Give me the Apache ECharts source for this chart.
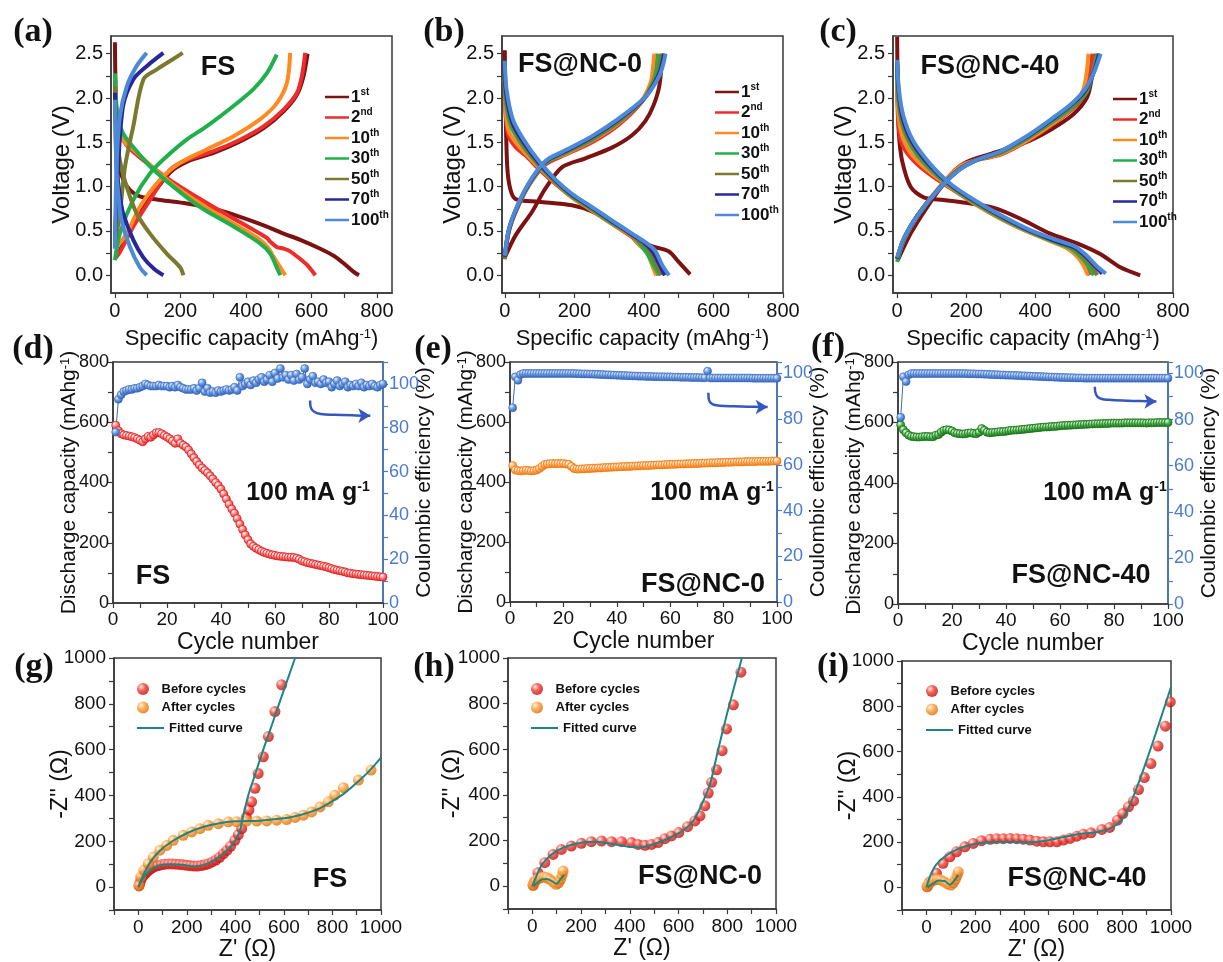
<!DOCTYPE html>
<html>
<head>
<meta charset="utf-8">
<script src="https://cdn.jsdelivr.net/npm/echarts@6/dist/echarts.min.js"></script>
<style>
html, body { margin: 0; padding: 0; background: #fff; }
#main { width: 1223px; height: 962px; }
</style>
</head>
<body>
<div id="main"></div>
<script>
// ---------- data ----------
var cycleNames = ['1st', '2nd', '10th', '30th', '50th', '70th', '100th'];

// (a)-(c) galvanostatic curves, [capacity (mAh/g), voltage (V)]
var fsDischarge = [
    [[0,2.63],[1,2.3],[3,1.9],[6,1.5],[12,1.25],[25,1.08],[46,0.96],[76,0.89],[138,0.85],[219,0.81],[301,0.75],[382,0.66],[464,0.55],[515,0.47],[566,0.4],[627,0.3],[668,0.22],[700,0.13],[725,0.05],[745,0.0]],
    [[0,2.2],[5,1.85],[15,1.6],[35,1.47],[76,1.33],[158,1.1],[260,0.86],[362,0.64],[443,0.47],[465,0.42],[474,0.38],[494,0.32],[515,0.3],[535,0.27],[560,0.2],[586,0.12],[612,0.0]],
    [[0,2.1],[5,1.8],[15,1.6],[30,1.5],[56,1.42],[158,1.08],[260,0.81],[362,0.585],[443,0.4],[470,0.3],[484,0.21],[505,0.09],[520,0.0]],
    [[0,2.28],[3,2.0],[10,1.75],[25,1.6],[46,1.49],[107,1.23],[178,1.0],[260,0.77],[362,0.55],[443,0.36],[474,0.245],[494,0.09],[505,0.0]],
    [[0,2.13],[2,1.85],[5,1.6],[15,1.3],[36,1.0],[66,0.7],[107,0.47],[158,0.245],[199,0.09],[209,0.0]],
    [[0,2.06],[2,1.7],[5,1.23],[15,0.9],[25,0.7],[56,0.4],[87,0.2],[120,0.07],[148,0.0]],
    [[0,1.98],[2,1.6],[5,1.15],[12,0.85],[20,0.62],[46,0.32],[76,0.09],[97,0.0]]
];
var fsCharge = [
    [[3,0.2],[15,0.28],[56,0.58],[107,0.87],[168,1.16],[219,1.28],[301,1.38],[382,1.51],[454,1.66],[515,1.85],[556,2.04],[576,2.25],[588,2.5]],
    [[2,0.2],[15,0.26],[56,0.55],[107,0.85],[168,1.19],[219,1.3],[301,1.4],[382,1.53],[454,1.68],[515,1.87],[556,2.06],[571,2.25],[581,2.51]],
    [[0,0.3],[36,0.47],[76,0.77],[138,1.08],[199,1.27],[280,1.42],[362,1.57],[443,1.76],[494,1.94],[525,2.17],[535,2.51]],
    [[0,0.17],[15,0.47],[56,0.85],[107,1.15],[158,1.34],[219,1.53],[280,1.68],[362,1.91],[423,2.1],[464,2.28],[494,2.49]],
    [[0,0.36],[15,0.7],[31,1.23],[56,1.68],[87,2.21],[127,2.32],[178,2.44],[207,2.51]],
    [[0,0.4],[10,1.23],[25,1.91],[56,2.21],[97,2.36],[148,2.51]],
    [[0,0.3],[5,1.23],[15,1.79],[36,2.13],[66,2.36],[97,2.51]]
];
var nc0Discharge = [
    [[0,2.54],[1,2.2],[2,1.98],[7,1.23],[16,0.97],[31,0.86],[98,0.83],[193,0.79],[251,0.72],[337,0.53],[414,0.34],[471,0.27],[500,0.15],[533,0.01]],
    [[0,2.1],[3,1.8],[10,1.58],[30,1.45],[60,1.35],[98,1.2],[146,1.03],[193,0.88],[251,0.73],[308,0.58],[366,0.43],[385,0.35],[404,0.3],[420,0.2],[432,0.08],[440,0.0]],
    [[0,2.2],[3,1.85],[12,1.62],[40,1.46],[98,1.22],[146,1.04],[193,0.88],[251,0.73],[308,0.58],[366,0.44],[390,0.33],[410,0.25],[425,0.1],[435,0.0]],
    [[0,2.25],[3,1.95],[18,1.68],[50,1.47],[98,1.24],[146,1.05],[193,0.89],[251,0.74],[308,0.59],[366,0.45],[392,0.34],[410,0.24],[430,0.1],[445,0.0]],
    [[0,2.3],[3,2.0],[21,1.7],[52,1.48],[98,1.25],[146,1.06],[193,0.9],[251,0.75],[308,0.6],[366,0.45],[395,0.36],[418,0.26],[438,0.1],[450,0.0]],
    [[0,2.35],[4,2.05],[22,1.72],[54,1.5],[100,1.26],[146,1.07],[193,0.91],[251,0.76],[308,0.61],[366,0.46],[400,0.37],[425,0.27],[445,0.12],[460,0.0]],
    [[0,2.42],[5,2.1],[24,1.75],[56,1.52],[100,1.28],[146,1.08],[193,0.92],[251,0.77],[308,0.62],[366,0.47],[405,0.37],[432,0.28],[452,0.12],[472,0.0]]
];
var nc0Charge = [
    [[0,0.2],[31,0.45],[79,0.72],[117,0.98],[165,1.22],[232,1.32],[308,1.44],[366,1.58],[404,1.74],[428,1.92],[445,2.15],[452,2.5]],
    [[0,0.18],[11,0.48],[31,0.71],[69,1.01],[117,1.25],[174,1.36],[251,1.5],[328,1.7],[395,1.96],[420,2.15],[432,2.3],[438,2.5]],
    [[0,0.2],[11,0.5],[31,0.72],[69,1.02],[117,1.27],[174,1.37],[251,1.52],[328,1.72],[395,1.98],[419,2.17],[425,2.3],[430,2.5]],
    [[0,0.19],[11,0.49],[31,0.72],[69,1.02],[117,1.27],[174,1.38],[251,1.53],[328,1.73],[398,1.98],[425,2.17],[435,2.3],[442,2.5]],
    [[0,0.2],[11,0.5],[31,0.73],[69,1.03],[117,1.28],[174,1.39],[251,1.54],[328,1.74],[400,1.99],[430,2.18],[442,2.3],[450,2.5]],
    [[0,0.21],[11,0.5],[31,0.73],[69,1.03],[117,1.28],[174,1.4],[251,1.56],[328,1.76],[402,2.0],[435,2.2],[448,2.32],[458,2.5]],
    [[0,0.22],[11,0.51],[31,0.74],[69,1.04],[117,1.29],[174,1.41],[251,1.57],[328,1.77],[404,2.01],[438,2.2],[452,2.33],[462,2.5]]
];
var nc40Discharge = [
    [[0,2.69],[1,2.3],[2,1.97],[5,1.6],[14,1.3],[39,1.0],[77,0.88],[135,0.85],[213,0.81],[290,0.75],[367,0.62],[444,0.47],[522,0.36],[589,0.24],[647,0.09],[705,0.0]],
    [[0,2.1],[3,1.75],[12,1.5],[39,1.33],[87,1.16],[155,0.98],[232,0.79],[309,0.62],[386,0.48],[450,0.4],[470,0.38],[500,0.3],[530,0.2],[548,0.08],[558,0.0]],
    [[0,2.2],[3,1.85],[14,1.58],[39,1.38],[87,1.19],[155,0.99],[232,0.79],[309,0.62],[386,0.48],[454,0.37],[495,0.3],[525,0.2],[542,0.1],[553,0.0]],
    [[0,2.3],[4,1.95],[15,1.7],[40,1.46],[87,1.23],[155,1.0],[232,0.8],[309,0.63],[386,0.49],[460,0.37],[505,0.3],[535,0.2],[555,0.1],[570,0.0]],
    [[0,2.35],[4,2.0],[16,1.72],[42,1.48],[90,1.24],[155,1.01],[232,0.81],[309,0.64],[386,0.5],[462,0.38],[510,0.31],[540,0.21],[565,0.1],[580,0.0]],
    [[0,2.4],[5,2.05],[17,1.76],[44,1.5],[92,1.25],[155,1.02],[232,0.82],[309,0.65],[386,0.5],[465,0.38],[515,0.31],[545,0.22],[575,0.1],[595,0.02]],
    [[0,2.43],[5,2.1],[18,1.8],[46,1.52],[95,1.26],[155,1.03],[232,0.83],[309,0.66],[386,0.51],[468,0.39],[518,0.32],[550,0.22],[580,0.1],[605,0.02]]
];
var nc40Charge = [
    [[2,0.17],[39,0.47],[87,0.77],[135,1.03],[193,1.26],[271,1.37],[367,1.49],[444,1.64],[512,1.82],[551,2.01],[565,2.24],[575,2.5]],
    [[0,0.18],[20,0.4],[60,0.68],[120,0.98],[180,1.23],[230,1.3],[300,1.36],[380,1.52],[450,1.7],[510,1.88],[545,2.05],[560,2.3],[566,2.5]],
    [[0,0.19],[20,0.41],[60,0.68],[120,0.98],[180,1.22],[230,1.3],[300,1.37],[380,1.53],[450,1.71],[510,1.9],[540,2.1],[550,2.3],[555,2.5]],
    [[0,0.15],[20,0.4],[60,0.67],[120,0.97],[180,1.2],[230,1.3],[300,1.38],[380,1.55],[450,1.73],[515,1.92],[550,2.07],[568,2.3],[578,2.5]],
    [[0,0.18],[20,0.41],[60,0.68],[120,0.97],[180,1.2],[230,1.3],[300,1.39],[380,1.56],[450,1.75],[512,1.93],[548,2.08],[570,2.3],[582,2.5]],
    [[0,0.19],[20,0.42],[60,0.68],[120,0.97],[180,1.19],[230,1.3],[300,1.4],[380,1.57],[450,1.76],[510,1.94],[546,2.09],[571,2.3],[586,2.5]],
    [[0,0.2],[20,0.42],[60,0.68],[120,0.97],[180,1.19],[230,1.3],[300,1.4],[380,1.58],[450,1.77],[510,1.95],[545,2.1],[572,2.3],[590,2.5]]
];
var capLabelTicks = [0, 200, 400, 600, 800];
var capTicks = [0, 100, 200, 300, 400, 500, 600, 700, 800];
var voltLabelTicks = [0, 0.5, 1, 1.5, 2, 2.5];
var voltTicks = [0, 0.25, 0.5, 0.75, 1, 1.25, 1.5, 1.75, 2, 2.25, 2.5];

// (d)-(f) cycling, cycle 1..100
var fsCapacity = [590,572,562,558,556,554,552,549,545,540, 535,545,553,550,558,565,566,562,556,551,
    545,538,530,545,530,524,518,508,495,482, 470,458,448,440,432,422,412,400,390,378,
    362,345,328,312,298,280,262,244,226,210, 196,188,182,177,172,168,165,162,160,158,
    156,155,154,153,152,152,151,149,145,140, 137,134,132,130,128,126,124,122,120,117,
    114,111,109,107,105,103,100,99,97,96, 95,94,93,92,91,90,89,88,87,86];
var fsEfficiency = [78,93,95,96.5,97,97.5,97.5,98,98,98.5, 99,100,99.5,99,99,99,99.5,99,99,99,
    98.5,99,98.5,99.5,98.5,98,97.5,97.5,97.5,98, 97,98,100.5,96.5,98,96,96.5,96,97,96.5,
    97,97.5,97,97.5,98.5,97,103,99,100,101, 99.5,101.5,100.5,102,103,101,102,104,101,105,
    102.5,107,103,104,102,104,101.5,104.5,102,103, 107,100,102,103.5,100.5,101,100,102,100.5,101,
    98.5,100,101.5,99,100,101,98.5,99.5,99,100, 99,100.5,98.5,99.5,99,100,99,98.5,99.5,100];
var nc0Capacity = [455,440,438,437,438,439,438,437,438,440, 445,452,458,460,461,462,461,462,461,462,
    460,459,452,445,443,443,444,444,445,445, 446,446,447,447,448,448,449,449,450,450,
    451,451,452,452,452,453,453,454,454,455, 455,455,456,456,457,457,457,458,458,459,
    459,459,460,460,460,461,461,461,462,462, 462,463,463,463,464,464,464,465,465,465,
    466,466,466,467,467,467,467,468,468,468, 468,468,469,469,469,469,469,470,470,470];
var nc0Efficiency = [85,98.5,97,99.5,100,100,100,100,100,100, 100,100,100,100,100,100,100,100,100,100,
    100,100,100,100,99.9,99.9,99.8,99.8,99.8,99.7, 99.7,99.6,99.6,99.5,99.5,99.4,99.4,99.3,99.3,99.2,
    99.2,99.1,99.1,99,99,98.9,98.9,98.8,98.8,98.8, 98.7,98.7,98.7,98.6,98.6,98.6,98.5,98.5,98.5,98.5,
    98.4,98.4,98.4,98.3,98.3,98.3,98.3,98.2,98.2,98.2, 98.2,98.1,98.1,101,98,98,98,98,98,98,
    98,98,98,98,98,98,98,98,98,98, 97.9,97.9,97.9,97.9,97.9,97.9,97.9,97.9,97.9,97.9];
var nc40Capacity = [592,576,566,558,554,553,552,552,553,554, 554,553,553,558,560,568,574,576,575,572,
    566,564,563,562,563,565,566,564,563,568, 580,574,568,566,567,568,569,570,570,571,
    573,574,575,575,576,577,578,579,580,581, 582,583,584,585,585,586,587,587,588,589,
    590,590,591,591,592,592,593,593,594,594, 595,595,596,596,596,597,597,597,598,598,
    598,598,598,599,599,599,599,599,599,599, 599,598,599,599,599,600,600,600,600,600];
var nc40Efficiency = [81,98.6,96.5,99.5,100,100,100,100,100,100, 100,100,100,100,100,100,100,100,100,100,
    100,100,100,100,100,99.9,99.9,99.9,99.8,99.8, 99.8,99.7,99.7,99.6,99.6,99.5,99.5,99.4,99.4,99.3,
    99.3,99.2,99.2,99.1,99.1,99,99,98.9,98.9,98.8, 98.8,98.7,98.7,98.6,98.6,98.5,98.5,98.4,98.4,98.3,
    98.3,98.3,98.2,98.2,98.2,98.1,98.1,98.1,98,98, 98,98,98,98,98,98,98,98,98,98,
    98,98,98,98,98,98,98,98,98,98, 98,98,98,98,98,98,98,98,98,98];
// "->" arrows pointing at the right axis, [cycle, CE %]
var fsArrow = [[73,92.4],[73.2,89.5],[74.5,87.3],[77,86.3],[82,85.9],[90,85.6],[95.3,85.5]];
var nc0Arrow = [[74.3,91.6],[74.5,88.5],[75.8,86.6],[78.5,85.9],[84,85.6],[92,85.4],[96.5,85.3]];
var nc40Arrow = [[72.9,94.3],[73.3,91],[74.8,89.2],[78,88.6],[85,88.2],[92,88],[95.7,87.9]];

// (g)-(i) Nyquist plots, [Z', -Z'']
var fsBefore = [[3,5],[7,20],[12,35],[20,48],[30,60],[40,70],[52,80],[65,88],[80,93],[95,97],[110,100],[125,101],[140,101],[155,100],[170,99],[185,97],[200,95],[215,93],[230,92],[245,92],[260,94],[275,97],[290,102],[305,110],[320,118],[335,130],[350,145],[365,160],[380,178],[398,204],[412,228],[426,255],[445,305],[456,336],[467,372],[481,431],[494,496],[515,569],[536,657],[563,766],[591,883]];
var fsAfter = [[3,7],[10,44],[23,73],[41,102],[62,131],[89,161],[117,182],[144,204],[185,226],[220,241],[254,255],[288,270],[330,277],[371,285],[405,285],[446,288],[488,288],[529,289],[570,292],[611,295],[646,304],[680,314],[714,328],[749,350],[783,372],[810,401],[845,434],[907,467],[959,511]];
var fsBeforeFit = [[0,0],[15,30],[40,65],[80,92],[130,100],[180,97],[230,90],[280,100],[330,130],[370,165],[400,205],[420,250],[430,300],[453,400],[484,500],[515,600],[548,700],[580,800],[613,900],[646,1000],[660,1045]];
var fsAfterFit = [[0,0],[20,50],[50,110],[90,160],[140,200],[200,235],[260,260],[330,278],[400,287],[500,290],[600,300],[650,310],[700,325],[750,345],[800,375],[850,410],[900,455],[950,505],[1000,565]];
var nc0Before = [[3,5],[10,22],[23,59],[51,103],[85,139],[119,161],[160,176],[201,188],[242,195],[284,198],[325,195],[366,195],[407,191],[434,183],[462,179],[489,183],[516,191],[544,208],[571,220],[601,235],[637,261],[667,286],[688,308],[708,352],[722,408],[736,455],[756,510],[779,594],[797,689],[825,795],[856,938]];
var nc0After = [[3,3],[8,15],[15,25],[25,33],[35,38],[48,40],[60,37],[72,30],[85,18],[98,8],[108,15],[116,30],[122,48],[126,66]];
var nc0BeforeFit = [[0,0],[15,40],[40,95],[80,140],[130,170],[200,190],[260,195],[330,185],[400,172],[440,170],[500,185],[560,210],[620,245],[663,290],[700,370],[730,450],[763,600],[800,760],[835,900],[860,1000],[870,1040]];
var nc0AfterFit = [[5,0],[20,15],[40,30],[60,32],[80,22],[100,10],[115,30],[130,50]];
var nc40Before = [[3,3],[14,25],[41,62],[68,106],[96,135],[123,157],[157,179],[191,194],[225,206],[260,212],[287,215],[314,215],[342,216],[369,215],[396,213],[423,209],[451,204],[478,201],[505,201],[533,201],[560,209],[587,216],[615,226],[642,235],[673,241],[717,256],[749,265],[781,297],[803,326],[826,356],[847,382],[867,432],[891,485],[918,547],[947,624],[977,712],[997,819]];
var nc40After = [[3,3],[10,15],[20,25],[32,32],[45,35],[58,33],[72,25],[86,15],[100,10],[110,20],[118,35],[125,52],[130,68]];
var nc40BeforeFit = [[0,0],[15,50],[40,100],[80,140],[130,170],[200,193],[280,200],[350,200],[420,199],[480,205],[550,220],[620,235],[700,245],[760,265],[800,300],[830,360],[860,440],[900,560],[950,720],[1000,885]];
var nc40AfterFit = [[5,0],[25,15],[50,30],[75,28],[95,12],[110,25],[130,55]];

// ---------- styles ----------
var FONT = 'Liberation Sans';
var AXIS = '#383838';
var BLUE = '#4a7bd0';
var cycleColors = ['#7d1212', '#ee2c2c', '#ff8a22', '#1fb04c', '#7a7a2e', '#27279a', '#4c8ad8'];

function sphere(light, mid, dark) {
    return { type: 'radial', x: 0.35, y: 0.32, r: 0.72,
        colorStops: [{ offset: 0, color: light }, { offset: 0.45, color: mid }, { offset: 1, color: dark }] };
}

var chart = echarts.init(document.getElementById('main'));
var grids = [], xAxes = [], yAxes = [], series = [], legends = [], graphics = [];

function addGrid(b) {
    grids.push({ left: b[0], top: b[1], width: b[2], height: b[3], show: true, borderColor: AXIS, borderWidth: 1.5 });
    return grids.length - 1;
}

function mkAxis(o) {
    var c = o.color || AXIS;
    var ax = {
        type: 'value', gridIndex: o.grid, min: o.min, max: o.max,
        name: o.name, nameLocation: 'middle', nameGap: o.nameGap, nameMoveOverlap: false,
        nameTextStyle: { fontFamily: FONT, fontSize: o.nameSize || 22, color: '#111',
            rich: { s: { fontFamily: FONT, fontSize: 13, color: '#111', verticalAlign: 'top' } } },
        axisLine: { show: true, onZero: false, lineStyle: { color: c, width: 1.5 } },
        axisTick: { show: true, length: 5, lineStyle: { color: c, width: 1.2 } },
        axisLabel: { fontFamily: FONT, fontSize: o.labelSize || 20, color: o.labelColor || '#111', margin: o.margin || 8 },
        splitLine: { show: false }
    };
    if (o.position) ax.position = o.position;
    if (o.rotate) ax.nameRotate = o.rotate;
    if (o.interval) ax.interval = o.interval;
    if (o.formatter) ax.axisLabel.formatter = o.formatter;
    if (o.labelValues) ax.axisLabel.customValues = o.labelValues;
    if (o.tickValues) ax.axisTick.customValues = o.tickValues;
    return ax;
}

function addText(txt, x, y, size, opt) {
    opt = opt || {};
    graphics.push({
        type: 'text', x: x, y: y, z: 100,
        style: {
            text: txt, fill: '#111',
            fontFamily: opt.family || FONT, fontSize: size, fontWeight: 'bold',
            align: opt.align || 'center', verticalAlign: 'middle',
            textAlign: opt.align || 'center', textVerticalAlign: 'middle',
            rich: { s: { fontFamily: FONT, fontSize: Math.round(size * 0.55), fontWeight: 'bold', fill: '#111', verticalAlign: 'top' } }
        }
    });
}

function supName(name) {
    var m = name.match(/^(\d+)(\D+)$/);
    return '{n|' + m[1] + '}{s|' + m[2] + '}';
}

// ---------- row 1: charge/discharge ----------
var row1 = [
    { box: [111, 36, 281, 257], xr: [-12, 846], dis: fsDischarge, cha: fsCharge, leg: [320, 82], tag: 'FS', tagAt: [218, 68], letter: '(a)', letterAt: [33, 32] },
    { box: [502, 36, 281, 257], xr: [-8, 800], dis: nc0Discharge, cha: nc0Charge, leg: [710, 77], tag: 'FS@NC-0', tagAt: [580, 65], letter: '(b)', letterAt: [444, 32] },
    { box: [893, 36, 280, 257], xr: [-12, 800], dis: nc40Discharge, cha: nc40Charge, leg: [1108, 84], tag: 'FS@NC-40', tagAt: [990, 67], letter: '(c)', letterAt: [838, 32] }
];
row1.forEach(function (p) {
    var g = addGrid(p.box);
    xAxes.push(mkAxis({ grid: g, min: p.xr[0], max: p.xr[1], name: 'Specific capacity (mAhg{s|-1})', nameGap: 35,
        labelValues: capLabelTicks, tickValues: capTicks }));
    yAxes.push(mkAxis({ grid: g, min: -0.2, max: 2.7, name: 'Voltage (V)', nameGap: 37, nameSize: 24, rotate: 90,
        labelValues: voltLabelTicks, tickValues: voltTicks, formatter: function (v) { return v.toFixed(1); } }));
    var xi = xAxes.length - 1, yi = yAxes.length - 1;
    cycleNames.forEach(function (nm, k) {
        [p.dis[k], p.cha[k]].forEach(function (d) {
            series.push({ type: 'line', name: nm, xAxisIndex: xi, yAxisIndex: yi, data: d,
                smooth: 0.3, symbol: 'none', silent: true,
                lineStyle: { width: 4, color: cycleColors[k] }, itemStyle: { color: cycleColors[k] } });
        });
    });
    legends.push({
        left: p.leg[0], top: p.leg[1], orient: 'vertical', selectedMode: false,
        data: cycleNames, icon: 'rect', itemWidth: 24, itemHeight: 2.5, itemGap: 2,
        formatter: supName,
        textStyle: { color: '#111', padding: [0, 0, 0, -3], rich: {
            n: { fontFamily: FONT, fontSize: 17, fontWeight: 'bold', color: '#111', lineHeight: 20 },
            s: { fontFamily: FONT, fontSize: 10, fontWeight: 'bold', color: '#111', verticalAlign: 'top', lineHeight: 20 } } }
    });
    addText(p.tag, p.tagAt[0], p.tagAt[1], 27);
    addText(p.letter, p.letterAt[0], p.letterAt[1], 34, { family: 'Liberation Serif' });
});

// ---------- row 2: cycling ----------
var row2 = [
    { box: [113, 362, 270, 241], ceMax: 110, cap: fsCapacity, ce: fsEfficiency, arrow: fsArrow, capColor: ['#ffffff', '#ff8080', '#e01e1e'], rateAt: [308, 493], tag: 'FS', tagAt: [153, 577], letter: '(d)', letterAt: [33, 349] },
    { box: [510, 362, 267, 240], ceMax: 105, cap: nc0Capacity, ce: nc0Efficiency, arrow: nc0Arrow, capColor: ['#ffffff', '#ffb366', '#f07810'], rateAt: [712, 493], tag: 'FS@NC-0', tagAt: [703, 585], letter: '(e)', letterAt: [433, 349] },
    { box: [898, 362, 270, 242], ceMax: 105, cap: nc40Capacity, ce: nc40Efficiency, arrow: nc40Arrow, capColor: ['#e8ffe8', '#52b152', '#177317'], rateAt: [1105, 493], tag: 'FS@NC-40', tagAt: [1081, 576], letter: '(f)', letterAt: [828, 347] }
];
row2.forEach(function (p) {
    var g = addGrid(p.box);
    xAxes.push(mkAxis({ grid: g, min: 0, max: 100, interval: 10, name: 'Cycle number', nameGap: 28, nameSize: 23, labelSize: 19, margin: 7,
        formatter: function (v) { return v % 20 === 0 ? v : ''; } }));
    var xi = xAxes.length - 1;
    yAxes.push(mkAxis({ grid: g, min: 0, max: 800, interval: 100, name: 'Discharge capacity (mAhg{s|-1})', nameGap: 33, nameSize: 21, rotate: 90,
        labelSize: 18, margin: 4, formatter: function (v) { return v % 200 === 0 ? v : ''; } }));
    var yl = yAxes.length - 1;
    yAxes.push(mkAxis({ grid: g, min: 0, max: p.ceMax, interval: 10, position: 'right', name: 'Coulombic efficiency (%)', nameGap: 31, nameSize: 21, rotate: 90,
        labelSize: 18, margin: 6,
        color: BLUE, labelColor: BLUE, formatter: function (v) { return (v % 20 === 0 && v <= 100) ? v : ''; } }));
    var yr = yAxes.length - 1;
    series.push({ type: 'line', name: 'capacity', xAxisIndex: xi, yAxisIndex: yl,
        data: p.cap.map(function (v, i) { return [i + 1, v]; }),
        symbol: 'circle', symbolSize: 8, silent: true,
        lineStyle: { width: 1, color: p.capColor[2] },
        itemStyle: { color: sphere(p.capColor[0], p.capColor[1], p.capColor[2]), borderColor: p.capColor[2], borderWidth: 0.8 } });
    series.push({ type: 'line', name: 'efficiency', xAxisIndex: xi, yAxisIndex: yr,
        data: p.ce.map(function (v, i) { return [i + 1, v]; }),
        symbol: 'circle', symbolSize: 8, silent: true,
        lineStyle: { width: 1, color: '#3c6cc0' },
        itemStyle: { color: sphere('#e6eeff', '#6d9be0', '#2c5eb4'), borderColor: '#3466bb', borderWidth: 0.6 } });
    var end = p.arrow[p.arrow.length - 1];
    series.push({ type: 'line', name: 'arrow', xAxisIndex: xi, yAxisIndex: yr, data: p.arrow,
        smooth: 0.4, symbol: 'none', silent: true, z: 5,
        lineStyle: { width: 2.5, color: '#3558c0' },
        markPoint: { silent: true, symbol: 'arrow', symbolSize: [11, 12], symbolRotate: -90,
            itemStyle: { color: '#3558c0' }, label: { show: false }, data: [{ coord: end }] } });
    addText('100 mA g{s|-1}', p.rateAt[0], p.rateAt[1], 25);
    addText(p.tag, p.tagAt[0], p.tagAt[1], 27);
    addText(p.letter, p.letterAt[0], p.letterAt[1], 34, { family: 'Liberation Serif' });
});

// ---------- row 3: impedance ----------
var row3 = [
    { box: [114, 658, 267, 252], before: fsBefore, after: fsAfter, bFit: fsBeforeFit, aFit: fsAfterFit, leg: [132, 677], tag: 'FS', tagAt: [330, 880], letter: '(g)', letterAt: [34, 667], yGap: 42 },
    { box: [508, 658, 268, 251], before: nc0Before, after: nc0After, bFit: nc0BeforeFit, aFit: nc0AfterFit, leg: [526, 677], tag: 'FS@NC-0', tagAt: [700, 877], letter: '(h)', letterAt: [434, 667], yGap: 44 },
    { box: [902, 661, 269, 250], before: nc40Before, after: nc40After, bFit: nc40BeforeFit, aFit: nc40AfterFit, leg: [921, 679], tag: 'FS@NC-40', tagAt: [1077, 879], letter: '(i)', letterAt: [833, 667], yGap: 42 }
];
var zFmt = function (v) { return (v >= 0 && v % 200 === 0) ? v : ''; };
row3.forEach(function (p) {
    var g = addGrid(p.box);
    xAxes.push(mkAxis({ grid: g, min: -100, max: 1000, interval: 100, name: "Z' (\u03A9)", nameGap: 28, nameSize: 23, labelSize: 19, formatter: zFmt }));
    yAxes.push(mkAxis({ grid: g, min: -100, max: 1000, interval: 100, name: "-Z'' (\u03A9)", nameGap: p.yGap, nameSize: 23, labelSize: 19, rotate: 90, formatter: zFmt }));
    var xi = xAxes.length - 1, yi = yAxes.length - 1;
    series.push({ type: 'scatter', name: 'Before cycles', xAxisIndex: xi, yAxisIndex: yi, data: p.before,
        symbol: 'circle', symbolSize: 11, silent: true,
        itemStyle: { color: sphere('#ffe4dc', '#f23a30', '#b80e0e') } });
    series.push({ type: 'scatter', name: 'After cycles', xAxisIndex: xi, yAxisIndex: yi, data: p.after,
        symbol: 'circle', symbolSize: 11, silent: true,
        itemStyle: { color: sphere('#fff0d8', '#ff9c33', '#d56a08') } });
    [p.bFit, p.aFit].forEach(function (d) {
        series.push({ type: 'line', name: 'Fitted curve', xAxisIndex: xi, yAxisIndex: yi, data: d,
            smooth: 0.3, symbol: 'none', silent: true, z: 4,
            lineStyle: { width: 2, color: '#1d8585' }, itemStyle: { color: '#1d8585' } });
    });
    var legText = { fontFamily: FONT, fontSize: 13, fontWeight: 'bold', color: '#111', lineHeight: 14 };
    legends.push({
        left: p.leg[0], top: p.leg[1], orient: 'vertical', selectedMode: false,
        data: ['Before cycles', 'After cycles'], icon: 'circle',
        itemWidth: 27, itemHeight: 12, itemGap: 4.5, textStyle: legText
    });
    legends.push({
        left: p.leg[0], top: p.leg[1] + 39, orient: 'vertical', selectedMode: false,
        data: ['Fitted curve'], icon: 'rect',
        itemWidth: 27, itemHeight: 2, textStyle: legText
    });
    addText(p.tag, p.tagAt[0], p.tagAt[1], 27);
    addText(p.letter, p.letterAt[0], p.letterAt[1], 34, { family: 'Liberation Serif' });
});

chart.setOption({
    animation: false,
    backgroundColor: '#ffffff',
    textStyle: { fontFamily: FONT },
    grid: grids,
    xAxis: xAxes,
    yAxis: yAxes,
    legend: legends,
    series: series,
    graphic: graphics
});
</script>
</body>
</html>
